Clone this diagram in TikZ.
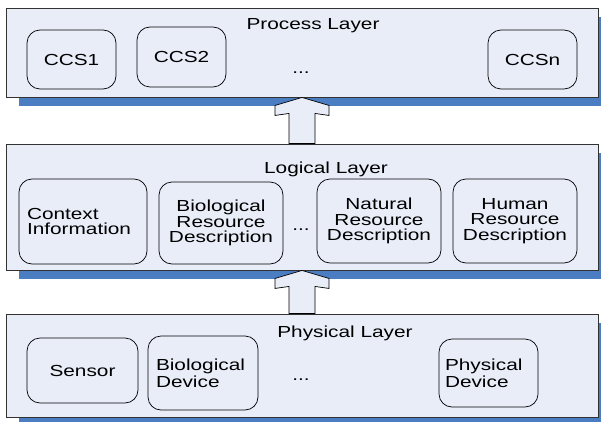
\documentclass[tikz,border=0pt]{standalone}
\usepackage{fontspec}
\setmainfont[FakeStretch=1.3]{Liberation Sans}
\usetikzlibrary{calc}

\definecolor{layerfill}{RGB}{232,237,248}
\definecolor{layershadow}{RGB}{74,125,194}
\definecolor{layerline}{RGB}{50,50,50}

\tikzset{
  layerbox/.style={draw=layerline, line width=0.9pt, fill=layerfill,
    rectangle, inner sep=0pt},
  unitbox/.style={draw=black, line width=0.7pt, rounded corners=13pt,
    rectangle, inner xsep=4pt, inner ysep=0pt, align=center},
  leftunit/.style={unitbox, align=left, inner xsep=8pt},
  title/.style={anchor=base, inner sep=0pt},
  gap/.style={anchor=base, inner sep=0pt},
  blockarrow/.style={draw=black, line width=0.7pt, fill=layerfill,
    line join=miter},
}

\newcommand{\layershade}[1]{%
  \fill[layershadow] ($(#1.south west)+(13,9)$) rectangle ($(#1.north east)+(13,9)$);}

% block arrow from the top of the lower layer up to the bottom of the upper layer
\newcommand{\layerarrow}[2]{%
  \draw[blockarrow] (#1.south) -- ++(-27,8) -- ++(0,10) -- ++(14,-2)
    -- ($(#2.north)+(-13,0)$) -- ($(#2.north)+(13,0)$)
    -- ($(#1.south)+(13,16)$) -- ++(14,2) -- ++(0,-10) -- cycle;}

\begin{document}
\begin{tikzpicture}[x=1pt, y=-1pt,
  every node/.style={font=\fontsize{16}{15.5}\selectfont}]
\useasboundingbox (0,0) rectangle (601,422);
\clip (0,0) rectangle (601,422);

% layer frames (placed first so the shadows can refer to them)
\path
  node[layerbox, minimum width=592, minimum height=89]  (proc) at (302,52.5) {}
  node[layerbox, minimum width=592, minimum height=126] (logi) at (302,207) {}
  node[layerbox, minimum width=592, minimum height=103] (phys) at (302,365.5) {};

% drop shadows
\layershade{proc}
\layershade{logi}
\layershade{phys}

% redraw the frames above their shadows
\node[layerbox, minimum width=592, minimum height=89]  at (proc) {};
\node[layerbox, minimum width=592, minimum height=126] at (logi) {};
\node[layerbox, minimum width=592, minimum height=103] at (phys) {};

% connecting block arrows
\layerarrow{proc}{logi}
\layerarrow{logi}{phys}

% process layer
\node[title] (proct) at (313,30) {Process Layer};
\node[unitbox, minimum width=89, minimum height=59] (ccs1) at (71.5,59.5) {CCS1};
\node[unitbox, minimum width=89, minimum height=60] (ccs2) at (181.5,57) {CCS2};
\node[unitbox, minimum width=89, minimum height=59] (ccsn) at (532.5,59.5) {CCSn};
\node[gap] (procdots) at (301,74) {...};

% logical layer
\node[title] (logit) at (326,173) {Logical Layer};
\node[leftunit, text width=112, minimum height=85] (ctx) at (83,221.5)
  {Context\\Information};
\node[unitbox, minimum width=124, minimum height=82] (bio) at (221,223)
  {Biological\\Resource\\Description};
\node[gap] (logidots) at (301,230) {...};
\node[unitbox, minimum width=124, minimum height=84] (nat) at (379,221)
  {Natural\\Resource\\Description};
\node[unitbox, minimum width=124, minimum height=84] (hum) at (515,221)
  {Human\\Resource\\Description};

% physical layer
\node[title] (physt) at (345,337) {Physical Layer};
\node[unitbox, minimum width=111, minimum height=65] (sensor) at (82.5,370.5) {Sensor};
\node[leftunit, text width=94, minimum height=74, inner xsep=8pt,
  font=\fontsize{16}{17}\selectfont] (biodev) at (203,373)
  {Biological\\Device};
\node[gap] (physdots) at (301,380) {...};
\node[leftunit, text width=87, minimum height=68, inner xsep=6pt,
  font=\fontsize{16}{17}\selectfont] (physdev) at (488.5,373)
  {Physical\\Device};
\end{tikzpicture}
\end{document}
